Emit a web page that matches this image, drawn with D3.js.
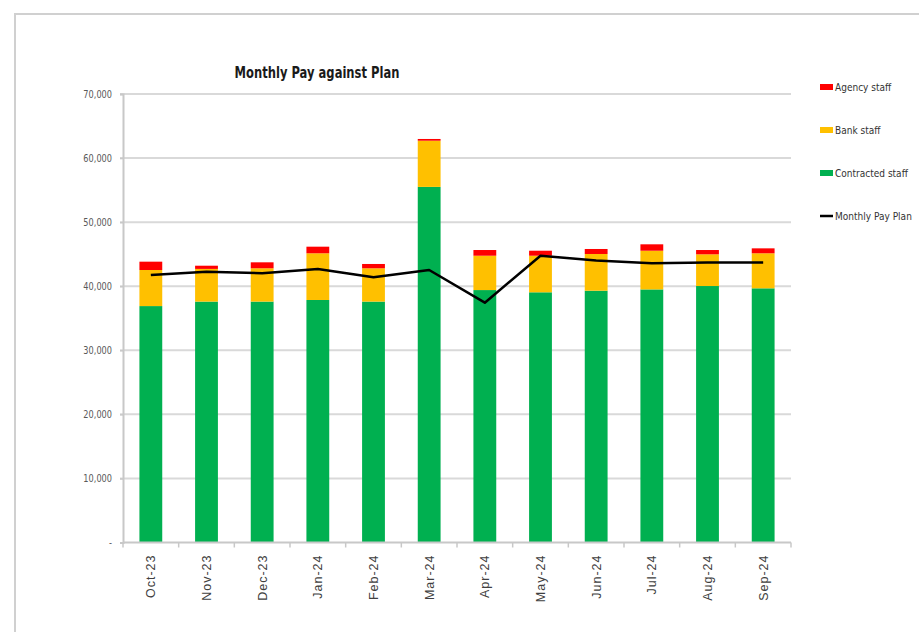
<!DOCTYPE html>
<html>
<head>
<meta charset="utf-8">
<script src="https://cdn.jsdelivr.net/npm/d3@7"></script>
<style>
  html, body { margin: 0; padding: 0; background: #fff; }
  svg { display: block; }
</style>
</head>
<body>
<svg id="chart" width="919" height="632"></svg>
<script>
// Monthly pay by staff type, Oct-23 to Sep-24
const months = ["Oct-23", "Nov-23", "Dec-23", "Jan-24", "Feb-24", "Mar-24",
                "Apr-24", "May-24", "Jun-24", "Jul-24", "Aug-24", "Sep-24"];
const contracted = [36900, 37600, 37600, 37850, 37600, 55500, 39400, 39050, 39300, 39500, 40030, 39670];
const bank       = [5630, 5100, 5200, 7290, 5200, 7210, 5360, 5710, 5730, 6040, 4950, 5470];
const agency     = [1300, 500, 930, 1030, 670, 270, 890, 780, 780, 1000, 670, 770];
const payPlan    = [41750, 42270, 42020, 42700, 41390, 42530, 37430, 44760, 44000, 43600, 43700, 43700];
const yTicks     = [0, 10000, 20000, 30000, 40000, 50000, 60000, 70000];

const seriesKeys = ["contracted", "bank", "agency"];
const seriesColors = { contracted: "#00b050", bank: "#ffc000", agency: "#ff0000" };
const legendItems = [
  { label: "Agency staff", color: "#ff0000", type: "rect" },
  { label: "Bank staff", color: "#ffc000", type: "rect" },
  { label: "Contracted staff", color: "#00b050", type: "rect" },
  { label: "Monthly Pay Plan", color: "#000000", type: "line" }
];

const rows = months.map((m, i) => ({
  month: m, contracted: contracted[i], bank: bank[i], agency: agency[i], plan: payPlan[i]
}));

const FONT = "'DejaVu Sans', 'Liberation Sans', sans-serif";
const svg = d3.select("#chart");

// Outer frame (top and left edges visible)
svg.append("path")
  .attr("d", "M15,632 L15,14 L919,14")
  .attr("fill", "none")
  .attr("stroke", "#d0d0d0")
  .attr("stroke-width", 2);

const plot = { left: 123, right: 791, top: 94, bottom: 542.5 };

const x = d3.scaleBand()
  .domain(months)
  .range([plot.left, plot.right])
  .paddingInner(0.59)
  .paddingOuter(0.295);

const xc = d3.scaleBand().domain(months).range([plot.left, plot.right]);

const y = d3.scaleLinear().domain([0, 70000]).range([plot.bottom, plot.top]);

// Horizontal gridlines
svg.append("g")
  .selectAll("line")
  .data(yTicks.filter(t => t > 0))
  .join("line")
  .attr("x1", plot.left - 3)
  .attr("x2", plot.right)
  .attr("y1", d => y(d))
  .attr("y2", d => y(d))
  .attr("stroke", "#d9d9d9")
  .attr("stroke-width", 2);

// Y axis
const yAxis = d3.axisLeft(y)
  .tickValues(yTicks)
  .tickSize(3)
  .tickPadding(0)
  .tickFormat(d => d === 0 ? "-" : d3.format(",")(d));

const gy = svg.append("g")
  .attr("transform", `translate(${plot.left},0)`)
  .call(yAxis);
gy.select(".domain").attr("stroke", "#c8c8c8").attr("stroke-width", 2);
gy.selectAll(".tick line").attr("stroke", "#c8c8c8").attr("stroke-width", 1.5);
gy.selectAll(".tick text")
  .attr("x", null)
  .attr("transform", "translate(-11,0) scale(0.78,1)")
  .attr("font-family", FONT)
  .attr("fill", "#595959")
  .style("font-size", "10.5px");

// Stacked bars
const stack = d3.stack().keys(seriesKeys)(rows);
svg.append("g")
  .selectAll("g")
  .data(stack)
  .join("g")
  .attr("fill", d => seriesColors[d.key])
  .selectAll("rect")
  .data(d => d)
  .join("rect")
  .attr("x", d => x(d.data.month))
  .attr("width", x.bandwidth())
  .attr("y", d => y(d[1]))
  .attr("height", d => y(d[0]) - y(d[1]));

// X axis with ticks at category boundaries
const gx = svg.append("g").attr("transform", `translate(0,${plot.bottom})`);
gx.append("line")
  .attr("x1", plot.left).attr("x2", plot.right)
  .attr("stroke", "#c8c8c8").attr("stroke-width", 2);
gx.selectAll("line.tk")
  .data(months.concat(["end"]))
  .join("line")
  .attr("class", "tk")
  .attr("x1", (d, i) => plot.left + i * xc.bandwidth())
  .attr("x2", (d, i) => plot.left + i * xc.bandwidth())
  .attr("y1", 0).attr("y2", 5)
  .attr("stroke", "#c8c8c8").attr("stroke-width", 1.5);
gx.selectAll("text")
  .data(months)
  .join("text")
  .attr("transform", d => `translate(${xc(d) + xc.bandwidth() / 2 + 4.5},12) rotate(-90)`)
  .attr("text-anchor", "end")
  .attr("font-family", "'Liberation Sans', Arial, sans-serif")
  .attr("font-size", 12.5)
  .attr("letter-spacing", 1)
  .attr("fill", "#404040")
  .text(d => d);

// Pay plan line
const line = d3.line()
  .x(d => xc(d.month) + xc.bandwidth() / 2)
  .y(d => y(d.plan));
svg.append("path")
  .datum(rows)
  .attr("d", line)
  .attr("fill", "none")
  .attr("stroke", "#000")
  .attr("stroke-width", 2.5)
  .attr("stroke-linejoin", "round");

// Title
svg.append("text")
  .attr("transform", "translate(317,78) scale(0.7,1)")
  .attr("text-anchor", "middle")
  .attr("font-family", FONT)
  .attr("font-weight", "bold")
  .attr("font-size", 16.5)
  .attr("fill", "#1a1a1a")
  .text("Monthly Pay against Plan");

// Legend
const lg = svg.append("g").attr("transform", "translate(820,87)");
const li = lg.selectAll("g")
  .data(legendItems)
  .join("g")
  .attr("transform", (d, i) => `translate(0,${i * 43})`);
li.filter(d => d.type === "rect").append("rect")
  .attr("x", 0).attr("y", -3).attr("width", 13).attr("height", 6)
  .attr("fill", d => d.color);
li.filter(d => d.type === "line").append("line")
  .attr("x1", 0).attr("x2", 13).attr("y1", 0).attr("y2", 0)
  .attr("stroke", d => d.color).attr("stroke-width", 2.5);
li.append("text")
  .attr("transform", "translate(15,4) scale(0.82,1)")
  .attr("font-family", FONT)
  .attr("font-size", 11)
  .attr("fill", "#333")
  .text(d => d.label);
</script>
</body>
</html>
